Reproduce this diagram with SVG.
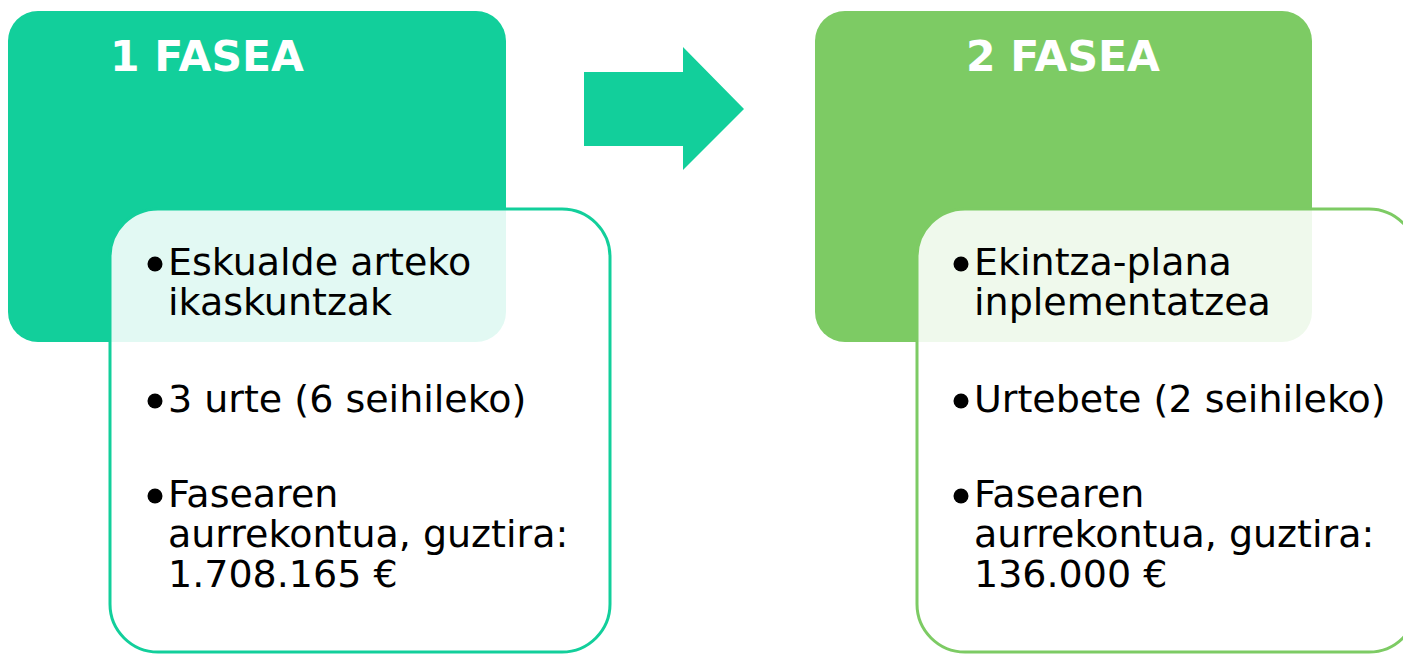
<svg xmlns="http://www.w3.org/2000/svg" width="1403" height="654" viewBox="0 0 1403 654">
<style>
.title{font-family:"DejaVu Sans",Verdana,sans-serif;font-weight:bold;font-size:42.5px;fill:#ffffff}
.body{font-family:"DejaVu Sans",Verdana,sans-serif;font-size:38px;fill:#000000}
.dot{fill:#000000}
</style>
<rect width="1403" height="654" fill="#ffffff"/>
<g id="phase1">
<rect x="8" y="11" width="498" height="331" rx="30" fill="#12CF9B"/>
<text class="title" x="110" y="71">1 FASEA</text>
</g>
<g id="phase1-details">
<rect x="110" y="209" width="500" height="443" rx="48" fill="#ffffff" fill-opacity="0.88" stroke="#12CF9B" stroke-width="3"/>
<circle class="dot" cx="155" cy="264" r="7.5"/>
<text class="body" x="168" y="275">Eskualde arteko</text>
<text class="body" x="168" y="315">ikaskuntzak</text>
<circle class="dot" cx="155" cy="401" r="7.5"/>
<text class="body" x="168" y="412">3 urte (6 seihileko)</text>
<circle class="dot" cx="155" cy="496" r="7.5"/>
<text class="body" x="168" y="507">Fasearen</text>
<text class="body" x="168" y="547">aurrekontua, guztira:</text>
<text class="body" x="168" y="587">1.708.165 €</text>
</g>
<g id="connectors">
<polygon points="584,72 683,72 683,47 744,109 683,170 683,146 584,146" fill="#12CF9B"/>
</g>
<g id="phase2">
<rect x="815" y="11" width="497" height="331" rx="30" fill="#7DCB64"/>
<text class="title" x="966" y="71">2 FASEA</text>
</g>
<g id="phase2-details">
<rect x="917" y="209" width="500" height="443" rx="48" fill="#ffffff" fill-opacity="0.88" stroke="#7DCB64" stroke-width="3"/>
<circle class="dot" cx="961" cy="264" r="7.5"/>
<text class="body" x="974" y="275">Ekintza-plana</text>
<text class="body" x="974" y="315">inplementatzea</text>
<circle class="dot" cx="961" cy="401" r="7.5"/>
<text class="body" x="974" y="412">Urtebete (2 seihileko)</text>
<circle class="dot" cx="961" cy="496" r="7.5"/>
<text class="body" x="974" y="507">Fasearen</text>
<text class="body" x="974" y="547">aurrekontua, guztira:</text>
<text class="body" x="974" y="587">136.000 €</text>
</g>
</svg>
